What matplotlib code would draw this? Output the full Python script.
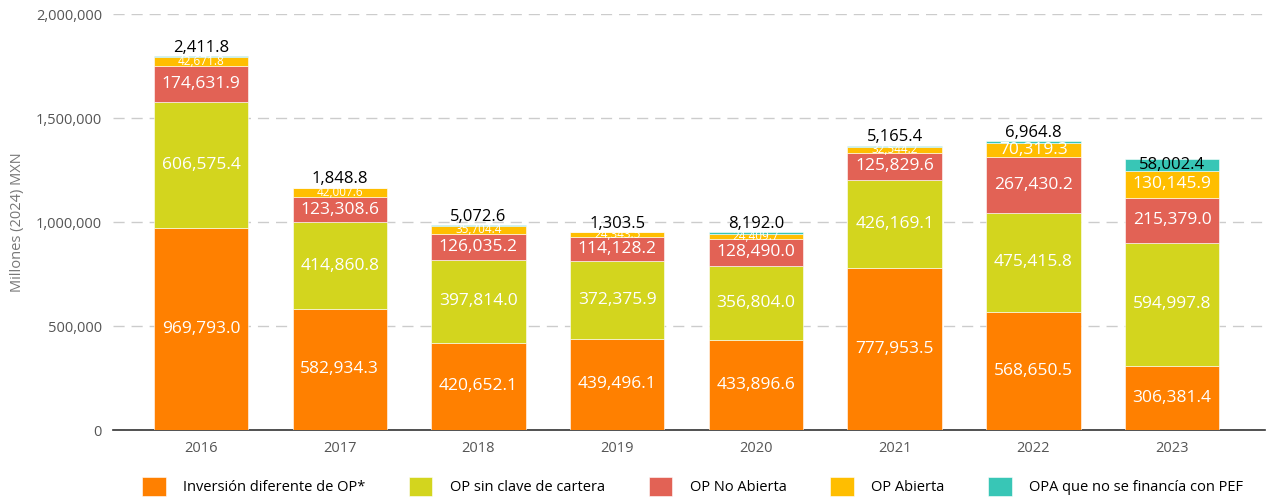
import matplotlib.pyplot as plt
import numpy as np

plt.rcParams["font.family"] = ["Open Sans", "DejaVu Sans"]

years = ["2016", "2017", "2018", "2019", "2020", "2021", "2022", "2023"]
inversion = [969793.0, 582934.3, 420652.1, 439496.1, 433896.6, 777953.5, 568650.5, 306381.4]
op_sin_clave = [606575.4, 414860.8, 397814.0, 372375.9, 356804.0, 426169.1, 475415.8, 594997.8]
op_no_abierta = [174631.9, 123308.6, 126035.2, 114128.2, 128490.0, 125829.6, 267430.2, 215379.0]
op_abierta = [42671.8, 42007.6, 35704.4, 24343.5, 24409.7, 32544.2, 70319.3, 130145.9]
opa = [2411.8, 1848.8, 5072.6, 1303.5, 8192.0, 5165.4, 6964.8, 58002.4]

series = [
    ("Inversión diferente de OP*", inversion, "#FF8000"),
    ("OP sin clave de cartera", op_sin_clave, "#D3D51E"),
    ("OP No Abierta", op_no_abierta, "#E26255"),
    ("OP Abierta", op_abierta, "#FFBE00"),
    ("OPA que no se financía con PEF", opa, "#38C6B6"),
]

fig = plt.figure(figsize=(12.71, 5.0), dpi=100)
ax = fig.add_axes([0.0889, 0.14, 0.9064, 0.832])

x = np.arange(len(years))
width = 0.68
bottom = np.zeros(len(years))
handles = []
for i, (name, vals, color) in enumerate(series):
    vals = np.array(vals)
    h = ax.bar(x, vals, width, bottom=bottom, color=color, edgecolor="white",
               linewidth=0.4, label=name, zorder=3)
    handles.append(h)
    for j, v in enumerate(vals):
        txt = f"{v:,.1f}"
        mid = bottom[j] + v / 2
        if i == 4:
            if v > 30000:
                ax.text(x[j], mid, txt, ha="center", va="center", fontsize=12,
                        color="black", zorder=4)
            else:
                ax.text(x[j], bottom[j] + v + 1500, txt, ha="center", va="bottom",
                        fontsize=12, color="black", zorder=4)
        elif v >= 60000:
            ax.text(x[j], mid, txt, ha="center", va="center", fontsize=12.5,
                    color="white", zorder=4)
        else:
            ax.text(x[j], mid, txt, ha="center", va="center", fontsize=8.5,
                    color="white", zorder=4)
    bottom += vals

ax.set_xlim(-0.634, 7.67)
ax.set_ylim(0, 2000000)
ax.set_yticks([0, 500000, 1000000, 1500000, 2000000])
ax.set_yticklabels(["0", "500,000", "1,000,000", "1,500,000", "2,000,000"])
ax.set_xticks(x)
ax.set_xticklabels(years)
ax.grid(axis="y", color="#cccccc", linestyle=(0, (8, 5)), linewidth=1, zorder=0)
for s in ["top", "right", "left"]:
    ax.spines[s].set_visible(False)
ax.spines["bottom"].set_color("#333333")
ax.spines["bottom"].set_linewidth(1.2)
ax.tick_params(axis="y", length=0, labelsize=10.5, labelcolor="#555555", pad=8)
ax.tick_params(axis="x", length=0, labelsize=10.5, labelcolor="#555555", pad=8)
ax.set_ylabel("Millones (2024) MXN", fontsize=10.5, color="#777777", labelpad=8)

fig.legend(handles=handles, loc="lower center", bbox_to_anchor=(0.545, -0.018),
           ncol=5, frameon=False, fontsize=10.5, handlelength=1.6, handleheight=1.6,
           columnspacing=3.0, handletextpad=1.2)

fig.savefig("out.png", dpi=100)
